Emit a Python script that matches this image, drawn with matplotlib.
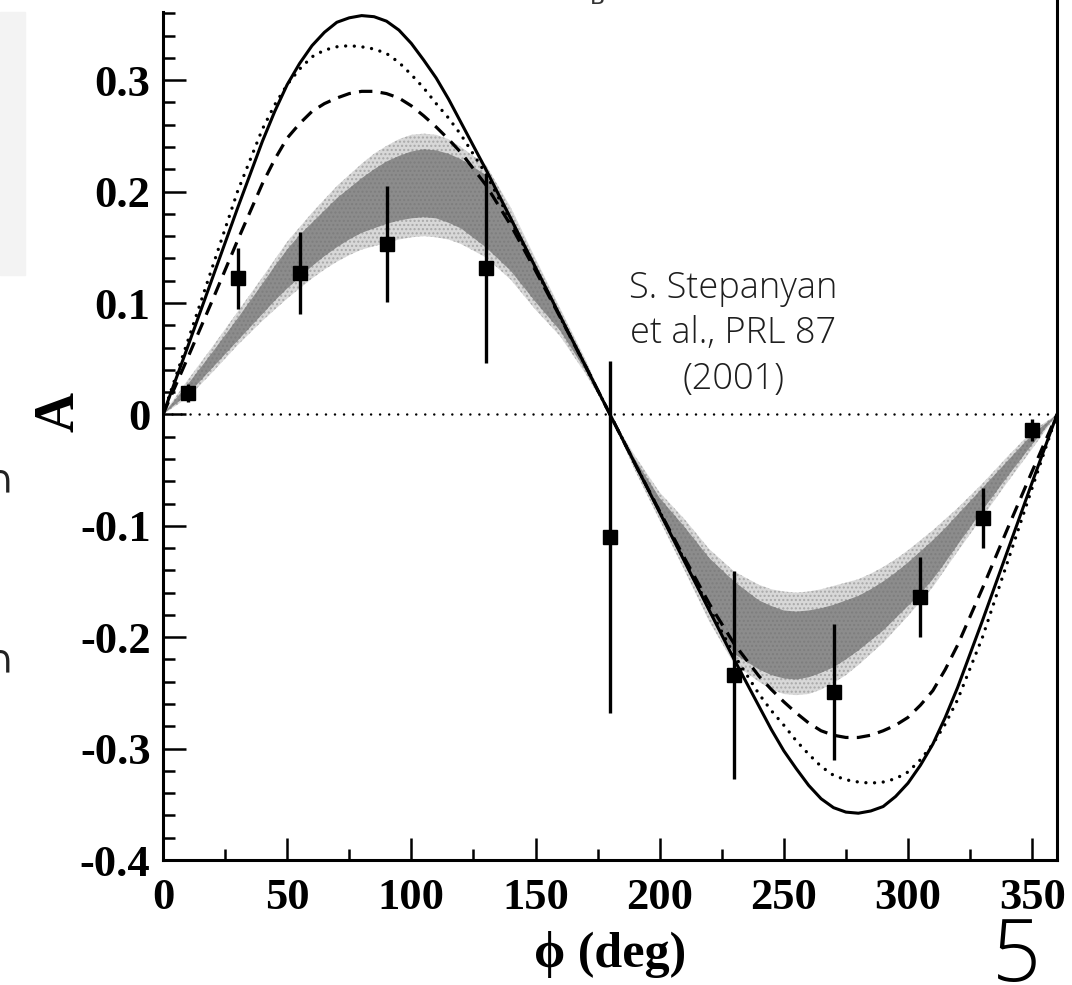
import matplotlib
matplotlib.use("Agg")
import matplotlib.pyplot as plt
from matplotlib.patches import Rectangle

# ---- data ----
phi_grid = [0, 10, 20, 30, 40, 45, 50, 55, 60, 65, 70, 75, 80, 85, 90, 95, 100, 105, 110, 115, 120,
            130, 140, 150, 160, 170, 180,
            190, 200, 210, 220, 230, 240, 245, 250, 255, 260, 265, 270, 275, 280, 285, 290, 295,
            300, 305, 310, 315, 320, 330, 340, 350, 360]

# theory curves
curve_solid = [0, 0.061, 0.123, 0.185, 0.245, 0.272, 0.296, 0.315, 0.331, 0.343, 0.352, 0.356, 0.358,
               0.357, 0.353, 0.345, 0.333, 0.318, 0.302, 0.283, 0.262,
               0.220, 0.176, 0.132, 0.088, 0.044, 0,
               -0.044, -0.088, -0.132, -0.176, -0.220, -0.262, -0.283, -0.302, -0.318, -0.333,
               -0.345, -0.353, -0.357, -0.358, -0.356, -0.352, -0.343, -0.331, -0.315, -0.296,
               -0.272, -0.245, -0.185, -0.123, -0.061, 0]
curve_dotted = [0, 0.066, 0.133, 0.200, 0.256, 0.278, 0.296, 0.310, 0.321, 0.327, 0.330, 0.331, 0.330,
                0.328, 0.324, 0.316, 0.305, 0.293, 0.279, 0.266, 0.251,
                0.216, 0.174, 0.131, 0.087, 0.044, 0,
                -0.044, -0.087, -0.131, -0.174, -0.216, -0.251, -0.266, -0.279, -0.293, -0.305,
                -0.316, -0.324, -0.328, -0.330, -0.331, -0.330, -0.327, -0.321, -0.310, -0.296,
                -0.278, -0.256, -0.200, -0.133, -0.066, 0]
curve_dashed = [0, 0.051, 0.103, 0.156, 0.207, 0.229, 0.248, 0.261, 0.272, 0.279, 0.284, 0.288, 0.290,
                0.290, 0.288, 0.284, 0.277, 0.268, 0.258, 0.247, 0.235,
                0.206, 0.170, 0.129, 0.087, 0.044, 0,
                -0.044, -0.087, -0.129, -0.170, -0.206, -0.235, -0.247, -0.258, -0.268, -0.277,
                -0.284, -0.288, -0.290, -0.290, -0.288, -0.284, -0.279, -0.272, -0.261, -0.248,
                -0.229, -0.207, -0.156, -0.103, -0.051, 0]

# error band: outer (light) and inner (dark) edges
band_outer_a = [0, 0.015, 0.038, 0.062, 0.084, 0.094, 0.104, 0.113, 0.122, 0.130, 0.137, 0.143, 0.148,
                0.151, 0.154, 0.157, 0.159, 0.160, 0.159, 0.157, 0.153,
                0.141, 0.121, 0.094, 0.070, 0.037, 0,
                -0.037, -0.070, -0.094, -0.121, -0.141, -0.153, -0.157, -0.159, -0.160, -0.159,
                -0.157, -0.154, -0.151, -0.148, -0.143, -0.137, -0.130, -0.122, -0.113, -0.104,
                -0.094, -0.084, -0.062, -0.038, -0.015, 0]
band_outer_b = [0, 0.031, 0.061, 0.092, 0.123, 0.139, 0.155, 0.168, 0.181, 0.193, 0.205, 0.215, 0.225,
                0.234, 0.241, 0.247, 0.251, 0.252, 0.251, 0.247, 0.240,
                0.224, 0.186, 0.140, 0.095, 0.050, 0,
                -0.050, -0.095, -0.140, -0.186, -0.224, -0.240, -0.247, -0.251, -0.252, -0.251,
                -0.247, -0.241, -0.234, -0.225, -0.215, -0.205, -0.193, -0.181, -0.168, -0.155,
                -0.139, -0.123, -0.092, -0.061, -0.031, 0]
band_inner_a = [0, 0.018, 0.042, 0.066, 0.090, 0.102, 0.113, 0.123, 0.133, 0.142, 0.150, 0.157, 0.163,
                0.167, 0.171, 0.174, 0.176, 0.177, 0.176, 0.172, 0.167,
                0.150, 0.129, 0.101, 0.075, 0.040, 0,
                -0.040, -0.075, -0.101, -0.129, -0.150, -0.167, -0.172, -0.176, -0.177, -0.176,
                -0.174, -0.171, -0.167, -0.163, -0.157, -0.150, -0.142, -0.133, -0.123, -0.113,
                -0.102, -0.090, -0.066, -0.042, -0.018, 0]
band_inner_b = [0, 0.027, 0.056, 0.086, 0.117, 0.133, 0.148, 0.161, 0.172, 0.183, 0.194, 0.203, 0.212,
                0.220, 0.227, 0.232, 0.236, 0.238, 0.237, 0.234, 0.229,
                0.215, 0.179, 0.133, 0.090, 0.047, 0,
                -0.047, -0.090, -0.133, -0.179, -0.215, -0.229, -0.234, -0.237, -0.238, -0.236,
                -0.232, -0.227, -0.220, -0.212, -0.203, -0.194, -0.183, -0.172, -0.161, -0.148,
                -0.133, -0.117, -0.086, -0.056, -0.027, 0]

# measured points
phi_pts = [10, 30, 55, 90, 130, 180, 230, 270, 305, 330, 350]
asym = [0.019, 0.122, 0.127, 0.153, 0.131, -0.110, -0.234, -0.249, -0.164, -0.093, -0.014]
asym_err = [0.008, 0.027, 0.037, 0.052, 0.085, 0.158, 0.093, 0.061, 0.036, 0.027, 0.010]

x_major = [0, 50, 100, 150, 200, 250, 300, 350]
x_minor = [25, 75, 125, 175, 225, 275, 325]
x_labels = ["0", "50", "100", "150", "200", "250", "300", "350"]
y_major = [-0.4, -0.3, -0.2, -0.1, 0, 0.1, 0.2, 0.3]
y_labels = ["-0.4", "-0.3", "-0.2", "-0.1", "0", "0.1", "0.2", "0.3"]
y_minor = [-0.38, -0.36, -0.34, -0.32, -0.28, -0.26, -0.24, -0.22, -0.18, -0.16, -0.14, -0.12,
           -0.08, -0.06, -0.04, -0.02, 0.02, 0.04, 0.06, 0.08, 0.12, 0.14, 0.16, 0.18,
           0.22, 0.24, 0.26, 0.28, 0.32, 0.34, 0.36]

note = "S. Stepanyan\net al., PRL 87\n(2001)"

serif = ["Liberation Serif", "DejaVu Serif"]

W, H = 1072, 985
fig = plt.figure(figsize=(W / 100, H / 100), dpi=100)
fig.patch.set_facecolor("white")

# faint slide remnants on the left / top
fig.patches.append(Rectangle((0, 1 - 275 / H), 25 / W, 263 / H, transform=fig.transFigure,
                             color="#f3f3f3", zorder=0))
for yy in [462, 642]:
    fig.text(0, 1 - yy / H, "\u2229", fontsize=28, color="#222222", ha="center", va="top",
             family="DejaVu Sans")
fig.text(598 / W, 1 + 2 / H, "B", fontsize=16, color="#333333", ha="center", va="center")

ax = fig.add_axes([163 / W, 125 / H, 894 / W, 860 / H])
ax.set_xlim(0, 360)
ax.set_ylim(-0.4, 0.372)

ax.fill_between(phi_grid, band_outer_a, band_outer_b, facecolor="#d8d8d8", edgecolor="#a8a8a8",
                hatch="....", linewidth=0, zorder=1)
ax.fill_between(phi_grid, band_inner_a, band_inner_b, facecolor="#8c8c8c", edgecolor="#7e7e7e",
                hatch="....", linewidth=0, zorder=2)

ax.plot(phi_grid, curve_solid, color="black", lw=2.2, zorder=3)
ax.plot(phi_grid, curve_dotted, color="black", lw=2.4, linestyle=(0, (0.01, 2.6)),
        dash_capstyle="round", zorder=3)
ax.plot(phi_grid, curve_dashed, color="black", lw=2.3, linestyle=(0, (4.2, 2.6)), zorder=3)
ax.axhline(0, color="black", lw=1.8, linestyle=(0, (0.01, 3.6)), dash_capstyle="round", zorder=3)

ax.errorbar(phi_pts, asym, yerr=asym_err, fmt="s", color="black", ms=10, elinewidth=2.4,
            capsize=0, zorder=4)

# frame and ticks
ax.spines["top"].set_visible(False)
for s in ["left", "bottom", "right"]:
    ax.spines[s].set_linewidth(2.2)
ax.spines["left"].set_bounds(-0.4, 0.361)

ax.set_xticks(x_major)
ax.set_xticks(x_minor, minor=True)
ax.set_xticklabels(x_labels)
ax.set_yticks(y_major)
ax.set_yticks(y_minor, minor=True)
ax.set_yticklabels(y_labels)
ax.tick_params(which="both", direction="in", width=1.8, top=False, right=False)
ax.tick_params(axis="x", which="major", length=16, pad=13)
ax.tick_params(axis="x", which="minor", length=8)
ax.tick_params(axis="y", which="major", length=16.5, pad=9)
ax.tick_params(axis="y", which="minor", length=8.6)
for lab in ax.get_xticklabels() + ax.get_yticklabels():
    lab.set_family(serif)
    lab.set_fontweight("bold")
    lab.set_fontsize(32)

fig.text(60 / W, 1 - 412 / H, "A", rotation=90, fontsize=40, fontweight="bold", family=serif,
         ha="center", va="center")
fig.text(610 / W, 1 - 955 / H, "\u03d5 (deg)", fontsize=36, fontweight="bold", family=serif,
         ha="center", va="center")

fig.text(733 / W, 1 - 334 / H, note, fontsize=26, family=["Open Sans", "Lato"], fontweight="light",
         color="#1e1e1e", ha="center", va="center", linespacing=1.3, multialignment="center")

fig.text(1017 / W, 1 - 981 / H, "5", fontsize=62, family=["Open Sans", "Lato"], fontweight="light",
         color="black", ha="center", va="baseline")

fig.savefig("out.png", dpi=100)
